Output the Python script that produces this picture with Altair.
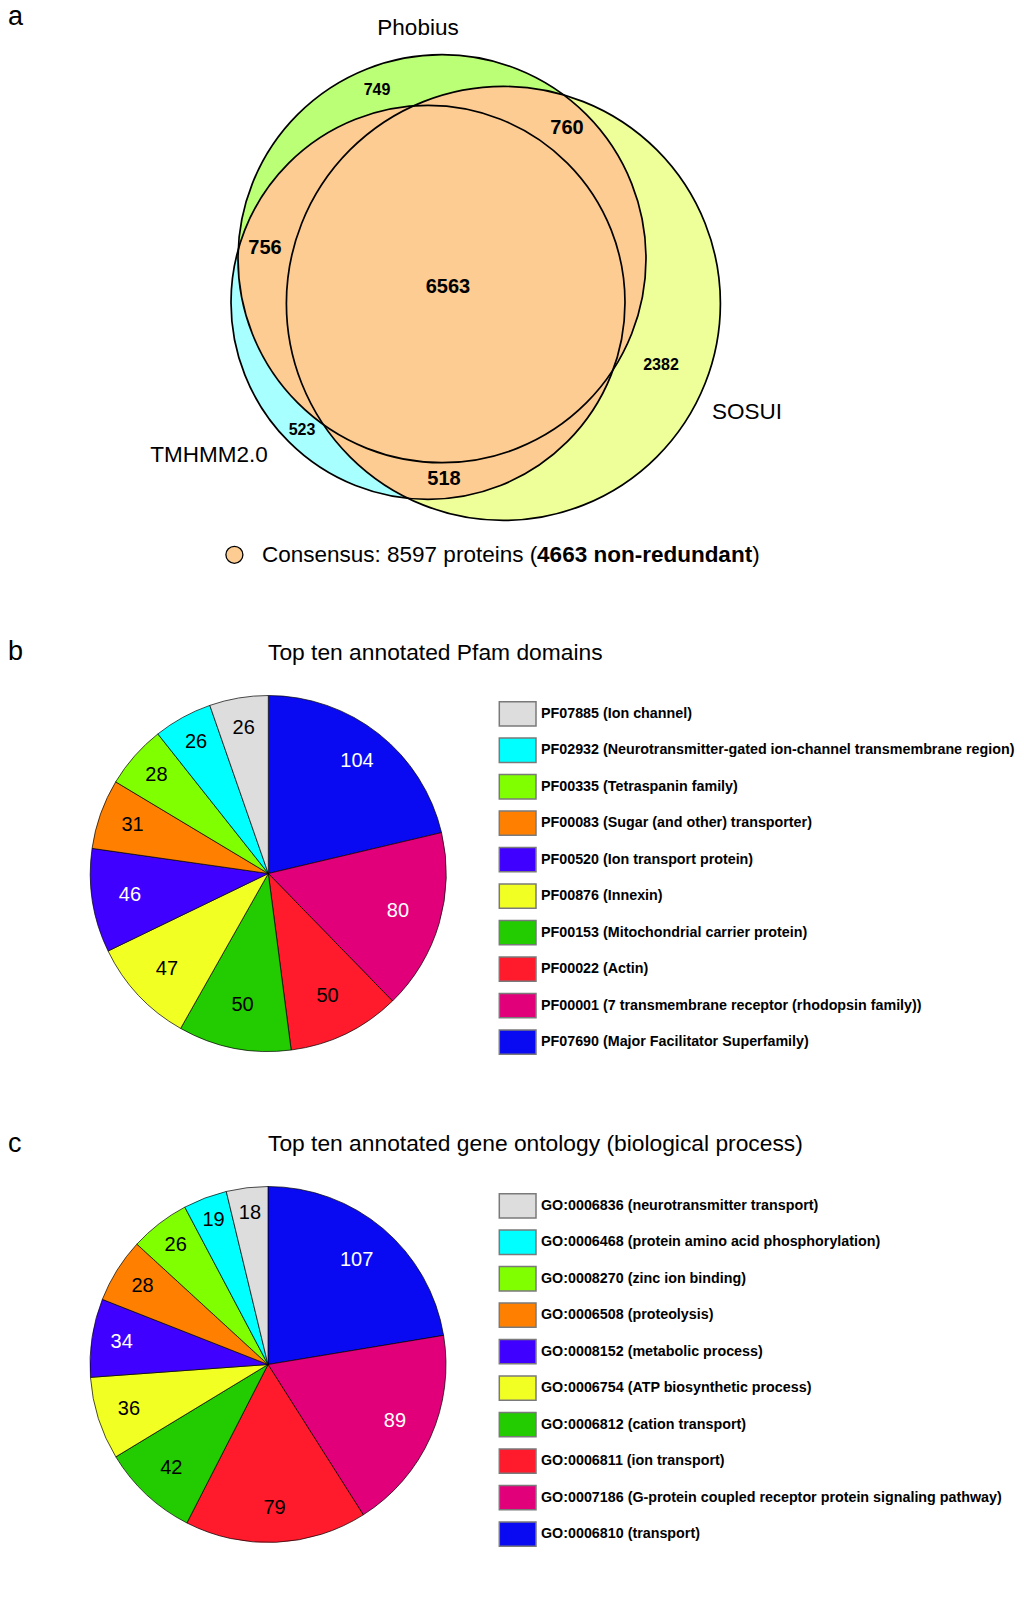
import altair as alt
import numpy as np
import pandas as pd

# ------------------------------------------------------------------ data
venn_set_names = ["Phobius", "TMHMM2.0", "SOSUI"]
venn_region_names = ["Phobius only", "Phobius & SOSUI", "Phobius & TMHMM2.0", "all three",
                     "SOSUI only", "TMHMM2.0 only", "TMHMM2.0 & SOSUI"]
venn_region_counts = [749, 760, 756, 6563, 2382, 523, 518]
consensus_proteins = 8597
consensus_nonredundant = 4663

pfam_title = "Top ten annotated Pfam domains"
pfam_labels = [
    "PF07690 (Major Facilitator Superfamily)",
    "PF00001 (7 transmembrane receptor (rhodopsin family))",
    "PF00022 (Actin)",
    "PF00153 (Mitochondrial carrier protein)",
    "PF00876 (Innexin)",
    "PF00520 (Ion transport protein)",
    "PF00083 (Sugar (and other) transporter)",
    "PF00335 (Tetraspanin family)",
    "PF02932 (Neurotransmitter-gated ion-channel transmembrane region)",
    "PF07885 (Ion channel)",
]
pfam_counts = [104, 80, 50, 50, 47, 46, 31, 28, 26, 26]

go_title = "Top ten annotated gene ontology (biological process)"
go_labels = [
    "GO:0006810 (transport)",
    "GO:0007186 (G-protein coupled receptor protein signaling pathway)",
    "GO:0006811 (ion transport)",
    "GO:0006812 (cation transport)",
    "GO:0006754 (ATP biosynthetic process)",
    "GO:0008152 (metabolic process)",
    "GO:0006508 (proteolysis)",
    "GO:0008270 (zinc ion binding)",
    "GO:0006468 (protein amino acid phosphorylation)",
    "GO:0006836 (neurotransmitter transport)",
]
go_counts = [107, 89, 79, 42, 36, 34, 28, 26, 19, 18]

# ------------------------------------------------------------------ styles
FONT = "Liberation Sans"
slice_colors = ["#0A0AF2", "#E2007A", "#FF1A2C", "#22CC00", "#F2FF22",
                "#4000FF", "#FF8000", "#80FF00", "#00FFFF", "#DDDDDD"]
slice_text_colors = ["white", "white", "black", "black", "black",
                     "white", "black", "black", "black", "black"]
venn_fill = {"Phobius": "#BBFF77", "TMHMM2.0": "#A8FFFF", "SOSUI": "#EEFF99"}
venn_overlap_fill = "#FDCC92"

# ------------------------------------------------------------------ layout (page pixels)
W, H = 1008, 1566
OX, OY = 8, 8
xs = alt.Scale(domain=[OX, OX + W], nice=False, zero=False)
ys = alt.Scale(domain=[OY, OY + H], nice=False, zero=False, reverse=True)

venn_geom = {  # centre x, centre y, radius
    "Phobius": (442.0, 258.7, 204.0),
    "TMHMM2.0": (428.0, 302.4, 197.0),
    "SOSUI": (503.4, 303.4, 217.0),
}
venn_label_pos = {  # x, y, font size
    "Phobius only": (377, 90, 16),
    "Phobius & SOSUI": (567, 128, 20),
    "Phobius & TMHMM2.0": (265, 248, 20),
    "all three": (448, 287, 20),
    "SOSUI only": (661, 365, 16),
    "TMHMM2.0 only": (302, 430, 16),
    "TMHMM2.0 & SOSUI": (444, 479, 20),
}
set_name_pos = {"Phobius": (418, 28), "SOSUI": (747, 412), "TMHMM2.0": (209, 455)}

pies = [
    dict(labels=pfam_labels, counts=pfam_counts, title=pfam_title,
         cx=268.3, cy=873.5, r=178.0,
         label_r=[143, 135, 136, 134, 139, 140, 144, 149, 150, 148],
         title_y=660.0, leg_y0=713.8),
    dict(labels=go_labels, counts=go_counts, title=go_title,
         cx=268.0, cy=1364.5, r=178.0,
         label_r=[137, 139, 144, 142, 146, 148, 148, 151, 154, 153],
         title_y=1151.0, leg_y0=1205.8),
]
LEG_STEP = 36.47
LEG_X0, LEG_X1, LEG_H = 499.3, 536.0, 24.3
LEG_TX = 541.0


def X(f):
    return alt.X(f, type="quantitative", scale=xs, axis=None)


def Y(f, **kw):
    return alt.Y(f, type="quantitative", scale=ys, axis=None, **kw)


layers = []

# ---------------- Venn: circle fills
circ_df = pd.DataFrame({
    "name": venn_set_names,
    "cx": [venn_geom[n][0] for n in venn_set_names],
    "cy": [venn_geom[n][1] for n in venn_set_names],
    "size": [4 * venn_geom[n][2] ** 2 for n in venn_set_names],
    "fill": [venn_fill[n] for n in venn_set_names],
})
layers.append(
    alt.Chart(circ_df).mark_circle(opacity=1, strokeWidth=0).encode(
        x=X("cx"), y=Y("cy"),
        size=alt.Size("size:Q", scale=None),
        color=alt.Color("fill:N", scale=None),
    )
)

# ---------------- Venn: overlaps (pairwise lenses, convex) in orange


def lens(a, b, step=0.2):
    (x1, y1, r1), (x2, y2, r2) = venn_geom[a], venn_geom[b]
    xx = np.arange(max(x1 - r1, x2 - r2), min(x1 + r1, x2 + r2) + step, step)
    h1 = np.sqrt(np.clip(r1 ** 2 - (xx - x1) ** 2, 0, None))
    h2 = np.sqrt(np.clip(r2 ** 2 - (xx - x2) ** 2, 0, None))
    top = np.maximum(y1 - h1, y2 - h2)
    bot = np.minimum(y1 + h1, y2 + h2)
    keep = top < bot
    return pd.DataFrame({"lx": xx[keep], "ytop": top[keep], "ybot": bot[keep], "lens": f"{a}&{b}"})


lens_df = pd.concat([lens("Phobius", "TMHMM2.0"), lens("Phobius", "SOSUI"), lens("TMHMM2.0", "SOSUI")])
layers.append(
    alt.Chart(lens_df).mark_area(color=venn_overlap_fill, opacity=1, strokeWidth=0).encode(
        x=X("lx"), y=Y("ytop", stack=None), y2=alt.Y2("ybot"), detail="lens:N"
    )
)

# ---------------- Venn: outlines
layers.append(
    alt.Chart(circ_df).mark_point(shape="circle", filled=False, color="black",
                                  stroke="black", strokeWidth=1.7, opacity=1).encode(
        x=X("cx"), y=Y("cy"), size=alt.Size("size:Q", scale=None)
    )
)

# consensus marker
cons_df = pd.DataFrame({"x": [234.4], "y": [554.8]})
layers.append(
    alt.Chart(cons_df).mark_point(shape="circle", filled=True, fill=venn_overlap_fill,
                                  stroke="black", strokeWidth=1.3, size=289, opacity=1).encode(
        x=X("x"), y=Y("y")
    )
)


def text_layer(df, align, baseline, weight="normal", color="black"):
    return alt.Chart(df).mark_text(align=align, baseline=baseline, font=FONT,
                                   fontWeight=weight, color=color).encode(
        x=X("x"), y=Y("y"), text="text:N", size=alt.Size("fs:Q", scale=None)
    )


# Venn region numbers
vn_df = pd.DataFrame({
    "text": [str(v) for v in venn_region_counts],
    "x": [venn_label_pos[n][0] for n in venn_region_names],
    "y": [venn_label_pos[n][1] for n in venn_region_names],
    "fs": [venn_label_pos[n][2] for n in venn_region_names],
})
layers.append(text_layer(vn_df, "center", "middle", "bold"))

# set names
sn_df = pd.DataFrame({
    "text": venn_set_names,
    "x": [set_name_pos[n][0] for n in venn_set_names],
    "y": [set_name_pos[n][1] for n in venn_set_names],
    "fs": [22.5] * 3,
})
layers.append(text_layer(sn_df, "center", "middle"))

# consensus text
cn_df = pd.DataFrame({"text": [f"Consensus: {consensus_proteins} proteins (", ")"],
                      "x": [262.0, 752.3], "y": [555.0, 555.0], "fs": [22.5, 22.5]})
layers.append(text_layer(cn_df, "left", "middle"))
cb_df = pd.DataFrame({"text": [f"{consensus_nonredundant} non-redundant"],
                      "x": [537.1], "y": [555.0], "fs": [22.5]})
layers.append(text_layer(cb_df, "left", "middle", "bold"))

# panel letters and titles
lt_df = pd.DataFrame({"text": ["a", "b", "c"], "x": [8.0, 8.0, 8.0],
                      "y": [25.0, 660.0, 1151.5], "fs": [27, 27, 27]})
layers.append(text_layer(lt_df, "left", "alphabetic"))
tt_df = pd.DataFrame({"text": [p["title"] for p in pies], "x": [268.0, 268.0],
                      "y": [p["title_y"] for p in pies], "fs": [22.8, 22.8]})
layers.append(text_layer(tt_df, "left", "alphabetic"))

# ---------------- pies + legends
for p in pies:
    n = len(p["counts"])
    df = pd.DataFrame({
        "label": p["labels"], "count": p["counts"], "idx": list(range(n)),
        "color": slice_colors, "tc": slice_text_colors, "lr": p["label_r"],
    })
    base = alt.Chart(df).transform_window(
        cum="sum(count)", sort=[alt.SortField("idx")], frame=[None, 0]
    ).transform_joinaggregate(total="sum(count)").transform_calculate(
        t0="2*PI*(datum.cum-datum.count)/datum.total",
        t1="2*PI*datum.cum/datum.total",
    ).transform_calculate(
        mid="(datum.t0+datum.t1)/2"
    ).transform_calculate(
        x=f"{p['cx']} + datum.lr*sin(datum.mid)",
        y=f"{p['cy']} - datum.lr*cos(datum.mid)",
    )
    layers.append(
        base.mark_arc(radius=p["r"], stroke="black", strokeWidth=0.7, opacity=1).encode(
            x=alt.XDatum(p["cx"], type="quantitative", scale=xs, axis=None),
            y=alt.YDatum(p["cy"], type="quantitative", scale=ys, axis=None),
            theta=alt.Theta("t0:Q", scale=None, stack=None),
            theta2=alt.Theta2("t1"),
            color=alt.Color("color:N", scale=None),
        )
    )
    layers.append(
        base.mark_text(align="center", baseline="middle", font=FONT, fontSize=20).encode(
            x=X("x"), y=Y("y"), text="count:Q", color=alt.Color("tc:N", scale=None)
        )
    )
    leg = df.iloc[::-1].reset_index(drop=True)
    leg["row"] = range(n)
    leg["yc"] = p["leg_y0"] + LEG_STEP * leg["row"]
    leg["y0"] = leg["yc"] - LEG_H / 2
    leg["y1"] = leg["yc"] + LEG_H / 2
    leg["x0"] = LEG_X0
    leg["x1"] = LEG_X1
    leg["tx"] = LEG_TX
    layers.append(
        alt.Chart(leg).mark_rect(stroke="#7A7A7A", strokeWidth=1.5, opacity=1).encode(
            x=X("x0"), x2=alt.X2("x1"), y=Y("y0"), y2=alt.Y2("y1"),
            color=alt.Color("color:N", scale=None),
        )
    )
    layers.append(
        alt.Chart(leg).mark_text(align="left", baseline="middle", font=FONT,
                                 fontWeight="bold", fontSize=14.3, color="black").encode(
            x=X("tx"), y=Y("yc"), text="label:N"
        )
    )

chart = alt.layer(*layers).properties(
    width=W, height=H, padding=0,
    autosize=alt.AutoSizeParams(type="none"),
    background="white",
).configure_view(stroke=None)

chart.save("out.html", embed_options={"renderer": "svg", "actions": False})
